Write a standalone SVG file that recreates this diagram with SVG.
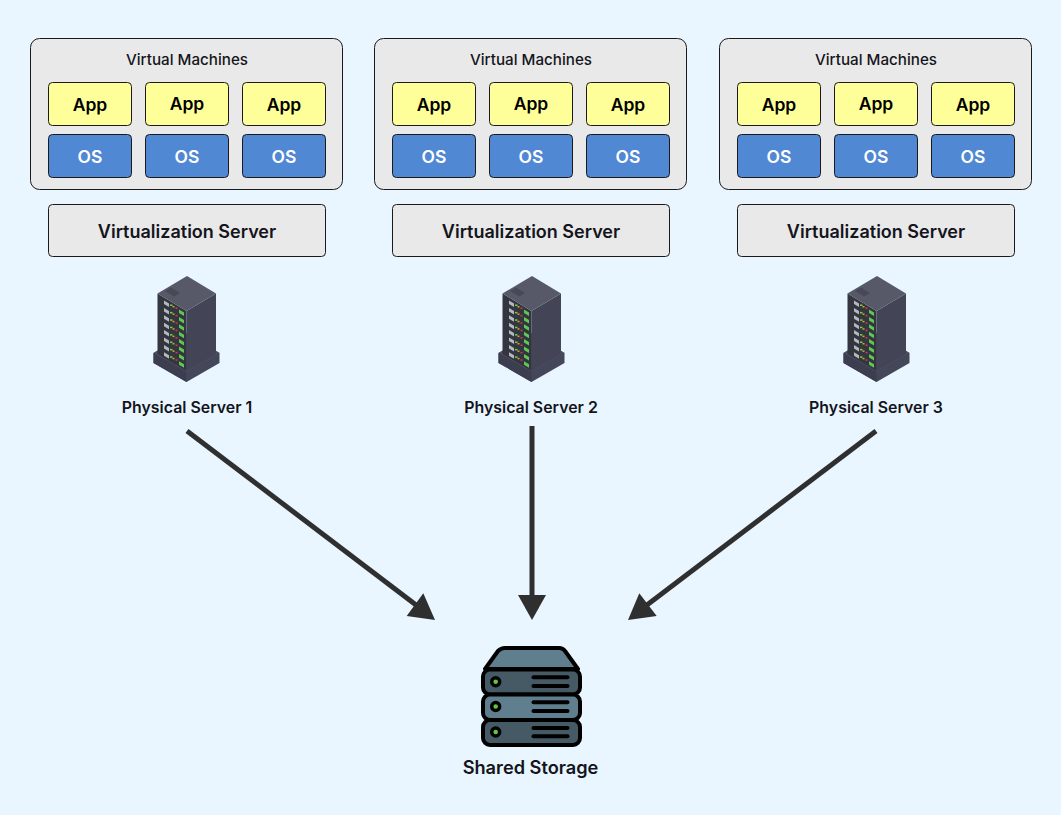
<svg xmlns="http://www.w3.org/2000/svg" width="1061" height="815" viewBox="0 0 1061 815">
<style>
text{font-family:Inter,"Liberation Sans",sans-serif;text-anchor:middle;fill:#14141c}
.box{stroke:#1a1a1a;stroke-width:1}
.vm{fill:#e9e9e9}
.app{fill:#ffff99}
.os{fill:#5188d4}
.tv{font-size:15.2px;font-weight:500}
.ta{font-size:17.500px;font-weight:600;fill:#000}
.to{font-size:17.500px;font-weight:600;fill:#fff}
.ts{font-size:18px;font-weight:600}
.tp{font-size:15.900px;font-weight:600}
.arrow{stroke:#2f2f2f;stroke-width:5;fill:none}
.head{fill:#2f2f2f}
.disk{stroke:#000;stroke-width:4}
.slot{stroke:#000;stroke-width:4;stroke-linecap:round}
.led{fill:#5fc93e;stroke:#000;stroke-width:3.400}
</style>
<defs>
<g id="rack">
<polygon points="153.5,353 186.5,333 219.5,353 219.5,363 186.5,382 153.5,363" fill="#44465a"/>
<polygon points="153.5,353 186.5,372 219.5,353 186.5,334" fill="#4b4d60"/>
<polygon points="153.5,353 186.5,372 186.5,382 153.5,363" fill="#3c3e50"/>
<polygon points="157.5,293.5 186.5,311 186.5,371 157.5,354" fill="#33353f"/>
<polygon points="186.5,311 216,293.5 216,354 186.5,371" fill="#434556"/>
<polygon points="187,276 216,293.5 186.5,311 157.5,293.5" fill="#575969"/>
<polygon points="165,291 171,287.5 180,293 174,296.500" fill="#474957"/>
<g id="slots">
<polygon points="164,300.500 169,303.500 169,307 164,304" fill="#b5b8c0"/>
<rect x="170" y="304.500" width="2.500" height="1.500" fill="#6fd04c"/>
<rect x="172.500" y="306" width="2" height="1.500" fill="#d8a030"/>
<rect x="175.500" y="307.500" width="2" height="1.500" fill="#c84048"/>
<polygon points="179,309.500 184,312.500 184,316 179,313" fill="#5fc852"/>
</g>
<use href="#slots" y="7.4"/><use href="#slots" y="14.8"/><use href="#slots" y="22.200"/><use href="#slots" y="29.600"/><use href="#slots" y="37"/><use href="#slots" y="44.400"/><use href="#slots" y="51.800"/>
</g>
<g id="stack">
<rect class="box vm" x="30.500" y="38.500" width="312" height="151" rx="9"/>
<rect class="box app" x="48.500" y="82.500" width="83" height="43" rx="4"/>
<rect class="box app" x="145.500" y="82.500" width="83" height="43" rx="4"/>
<rect class="box app" x="242.500" y="82.500" width="83" height="43" rx="4"/>
<rect class="box os" x="48.500" y="134.500" width="83" height="43" rx="4"/>
<rect class="box os" x="145.500" y="134.500" width="83" height="43" rx="4"/>
<rect class="box os" x="242.500" y="134.500" width="83" height="43" rx="4"/>
<rect class="box vm" x="48.500" y="204.500" width="277" height="52" rx="4"/>
</g>
</defs>
<rect width="1061" height="815" fill="#e9f6ff"/>

<g id="cluster-1">
<use href="#stack"/>
<text class="tv" x="187" y="65">Virtual Machines</text>
<text class="ta" x="90" y="111">App</text><text class="ta" x="187" y="110">App</text><text class="ta" x="284" y="111">App</text>
<text class="to" x="90" y="162.500">OS</text><text class="to" x="187" y="162.500">OS</text><text class="to" x="284" y="162.500">OS</text>
<text class="ts" x="187" y="238">Virtualization Server</text>
</g>
<g id="cluster-2" >
<use href="#stack" x="344"/>
<text class="tv" x="531" y="65">Virtual Machines</text>
<text class="ta" x="434" y="111">App</text><text class="ta" x="531" y="110">App</text><text class="ta" x="628" y="111">App</text>
<text class="to" x="434" y="162.500">OS</text><text class="to" x="531" y="162.500">OS</text><text class="to" x="628" y="162.500">OS</text>
<text class="ts" x="531" y="238">Virtualization Server</text>
</g>
<g id="cluster-3">
<use href="#stack" x="689"/>
<text class="tv" x="876" y="65">Virtual Machines</text>
<text class="ta" x="779" y="111">App</text><text class="ta" x="876" y="110">App</text><text class="ta" x="973" y="111">App</text>
<text class="to" x="779" y="162.500">OS</text><text class="to" x="876" y="162.500">OS</text><text class="to" x="973" y="162.500">OS</text>
<text class="ts" x="876" y="238">Virtualization Server</text>
</g>

<g id="physical-1"><use href="#rack"/><text class="tp" x="187" y="413">Physical Server 1</text></g>
<g id="physical-2"><use href="#rack" x="345"/><text class="tp" x="531" y="413">Physical Server 2</text></g>
<g id="physical-3"><use href="#rack" x="690"/><text class="tp" x="876" y="413">Physical Server 3</text></g>

<g id="connectors">
<line class="arrow" x1="187" y1="431" x2="420" y2="608"/>
<polygon class="head" points="435,620 423.300,593.300 406.700,616"/>
<line class="arrow" x1="532" y1="426" x2="532" y2="600"/>
<polygon class="head" points="532,620 518,595 546,595"/>
<line class="arrow" x1="876" y1="431" x2="643" y2="608"/>
<polygon class="head" points="628,620 639.300,593.300 656.700,616"/>
</g>

<g id="shared-storage">
<path class="disk" d="M485,669 L498,651 Q501,648 505,648 L559,648 Q563,648 565,651 L578,669 Z" fill="#5f7f8e" stroke-linejoin="round"/>
<rect class="disk" x="483" y="669.500" width="97" height="25" rx="7" fill="#455a64"/>
<rect class="disk" x="483" y="694.500" width="97" height="25.500" rx="7" fill="#5f7f8e"/>
<rect class="disk" x="483" y="720" width="97" height="25" rx="7" fill="#455a64"/>
<circle class="led" cx="495.700" cy="681.700" r="4"/>
<circle class="led" cx="495.700" cy="706.500" r="4"/>
<circle class="led" cx="495.700" cy="732" r="4"/>
<line class="slot" x1="533.500" y1="677.300" x2="567.500" y2="677.300"/>
<line class="slot" x1="533.500" y1="686" x2="567.500" y2="686"/>
<line class="slot" x1="533.500" y1="702.300" x2="567.500" y2="702.300"/>
<line class="slot" x1="533.500" y1="711" x2="567.500" y2="711"/>
<line class="slot" x1="533.500" y1="728" x2="567.500" y2="728"/>
<line class="slot" x1="533.500" y1="736.300" x2="567.500" y2="736.300"/>
<text x="530.500" y="774" style="font-size:18.200px;font-weight:600">Shared Storage</text>
</g>
</svg>
